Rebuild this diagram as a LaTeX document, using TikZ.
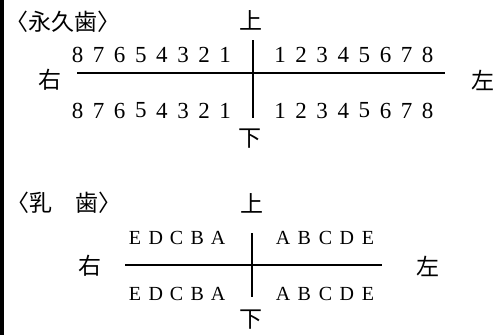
\documentclass[tikz,border=0pt]{standalone}
\usepackage{fontspec}
\newfontfamily\jpfont{Noto Sans CJK JP}
\newfontfamily\numfont{Liberation Serif}
\usetikzlibrary{positioning}

\begin{document}
\begin{tikzpicture}[
    x=1pt, y=-1pt,
    jp/.style={font=\jpfont\fontsize{23}{23}\selectfont, inner sep=0pt},
    num/.style={font=\numfont\fontsize{23}{23}\selectfont, inner sep=0pt},
    let/.style={font=\numfont\fontsize{20}{20}\selectfont, inner sep=0pt},
    axis/.style={line width=1.5pt}
]
\useasboundingbox (0,0) rectangle (502,335);

% Left bar
\fill (0,0) rectangle (4,335);

% Permanent teeth
\node[jp] (perm) at (63,22) {〈永久歯〉};
\node[jp] (pup) at (251,20) {上};
\node[jp] (pdown) at (250,139) {下};
\node[jp] (pright) at (50,80) {右};
\node[jp] (pleft) at (483,80) {左};

\coordinate (ph1) at (77,73);
\coordinate (ph2) at (445,73);
\coordinate (pv1) at (253,40);
\coordinate (pv2) at (253,118);
\draw[axis] (ph1) -- (ph2);
\draw[axis] (pv1) -- (pv2);

\foreach \n [count=\i] in {8,7,...,1} {
    \node[num] (pul\n) at ({77.5+21.1*(\i-1)},55) {\n};
    \node[num] (pll\n) at ({77.5+21.1*(\i-1)},110.5) {\n};
}
\foreach \n in {1,...,8} {
    \node[num] (pur\n) at ({280+21.1*(\n-1)},55) {\n};
    \node[num] (plr\n) at ({280+21.1*(\n-1)},110.5) {\n};
}

% Primary teeth
\node[jp] (milk) at (64,203) {〈乳　歯〉};
\node[jp] (mup) at (252,203) {上};
\node[jp] (mdown) at (251,320) {下};
\node[jp] (mright) at (90,266) {右};
\node[jp] (mleft) at (428,266) {左};

\coordinate (mh1) at (125,265);
\coordinate (mh2) at (382,265);
\coordinate (mv1) at (252,233);
\coordinate (mv2) at (252,297);
\draw[axis] (mh1) -- (mh2);
\draw[axis] (mv1) -- (mv2);

\foreach \c [count=\i] in {E,D,C,B,A} {
    \node[let] (mul\c) at ({135+20.75*(\i-1)},237.5) {\c};
    \node[let] (mll\c) at ({135+20.75*(\i-1)},293.5) {\c};
}
\foreach \c [count=\i] in {A,B,C,D,E} {
    \node[let] (mur\c) at ({283+21.25*(\i-1)},237.5) {\c};
    \node[let] (mlr\c) at ({283+21.25*(\i-1)},293.5) {\c};
}

\end{tikzpicture}
\end{document}
